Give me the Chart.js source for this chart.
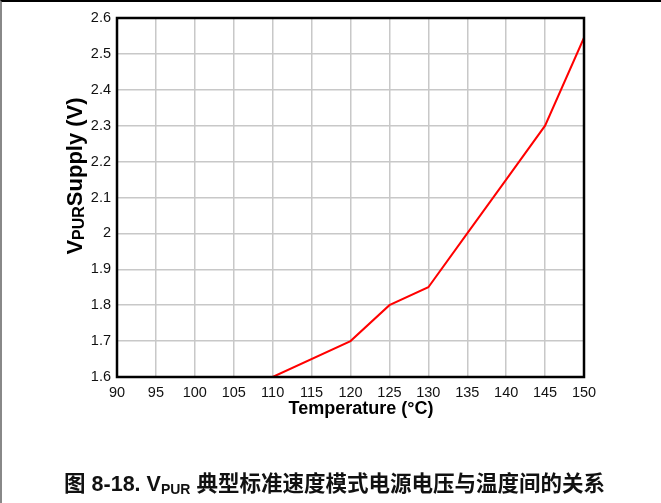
<!DOCTYPE html>
<html>
<head>
<meta charset="utf-8">
<script src="https://cdn.jsdelivr.net/npm/chart.js@4/dist/chart.umd.min.js"></script>
<style>
  html, body { margin: 0; padding: 0; background: #fff; }
  #wrap { position: relative; width: 661px; height: 503px; overflow: hidden; }
  #frame { position: absolute; left: 0; top: 0; width: 659px; height: 501px;
           border-top: 2px solid #000; border-left: 2px solid #888; }
  #caption { position: absolute; left: 4px; width: 661px; top: 466px; text-align: center;
             font-family: "Liberation Sans", "Noto Sans CJK SC", sans-serif;
             font-weight: bold; font-size: 21.5px; color: #111; }
  #caption sub { font-size: 14px; vertical-align: -3px; }
</style>
</head>
<body>
<div id="wrap">
  <canvas id="myChart" width="661" height="503"></canvas>
  <div id="frame"></div>
  <div id="caption">图 8-18. V<sub>PUR</sub> 典型标准速度模式电源电压与温度间的关系</div>
</div>
<script>
// temperature (°C) and supply (V)
var temps = [110, 120, 125, 130, 135, 140, 145, 150];
var supply = [1.6, 1.7, 1.8, 1.85, 2.0, 2.15, 2.3, 2.545];

var xTickLabels = ['90', '95', '100', '105', '110', '115', '120', '125', '130', '135', '140', '145', '150'];
var yTickLabels = ['1.6', '1.7', '1.8', '1.9', '2', '2.1', '2.2', '2.3', '2.4', '2.5', '2.6'];

var points = [];
for (var i = 0; i < temps.length; i++) {
    points.push({ x: temps[i], y: supply[i] });
}

// box around plot area + the axis titles (y title has a subscript)
var extras = {
    id: 'extras',
    afterDraw: function(chart) {
        var ctx = chart.ctx;
        var a = chart.chartArea;
        ctx.save();
        ctx.strokeStyle = '#000';
        ctx.lineWidth = 2.5;
        ctx.strokeRect(a.left, a.top, a.right - a.left, a.bottom - a.top);

        ctx.fillStyle = '#000';
        ctx.font = 'bold 18px "Liberation Sans", Arial, sans-serif';
        ctx.textAlign = 'center';
        ctx.textBaseline = 'middle';
        ctx.fillText('Temperature (\u00b0C)', 361, 409);

        ctx.translate(76, 176);
        ctx.rotate(-Math.PI / 2);
        var big = 'bold 22px "Liberation Sans", Arial, sans-serif';
        var small = 'bold 16px "Liberation Sans", Arial, sans-serif';
        ctx.font = big;
        var w1 = ctx.measureText('V').width;
        var w3 = ctx.measureText('Supply (V)').width;
        ctx.font = small;
        var w2 = ctx.measureText('PUR').width;
        var x = -(w1 + w2 + w3) / 2;
        ctx.textAlign = 'left';
        ctx.font = big;
        ctx.fillText('V', x, 0);
        ctx.font = small;
        ctx.fillText('PUR', x + w1, 4);
        ctx.font = big;
        ctx.fillText('Supply (V)', x + w1 + w2, 0);
        ctx.restore();
    }
};

var ctx = document.getElementById('myChart');
var myChart = new Chart(ctx, {
    type: 'line',
    data: {
        datasets: [{
            data: points,
            borderColor: '#ff0000',
            borderWidth: 2,
            pointRadius: 0,
            tension: 0,
            clip: 0
        }]
    },
    options: {
        responsive: false,
        animation: false,
        layout: { padding: { left: 0, top: 18, right: 77, bottom: 0 } },
        plugins: { legend: { display: false }, tooltip: { enabled: false } },
        scales: {
            x: {
                type: 'linear',
                min: 90,
                max: 150,
                afterFit: function(scale) { scale.height = 126; },
                border: { display: false },
                grid: { color: '#c8c8c8', lineWidth: 1.5, drawTicks: false },
                ticks: {
                    stepSize: 5,
                    padding: 7,
                    color: '#111',
                    font: { family: '"Liberation Sans", Arial, sans-serif', size: 14.5 },
                    maxRotation: 0,
                    callback: function(value, index) { return xTickLabels[index]; }
                }
            },
            y: {
                type: 'linear',
                min: 1.6,
                max: 2.6,
                afterFit: function(scale) { scale.width = 117; },
                border: { display: false },
                grid: { color: '#c8c8c8', lineWidth: 1.5, drawTicks: false },
                ticks: {
                    stepSize: 0.1,
                    padding: 6,
                    color: '#111',
                    font: { family: '"Liberation Sans", Arial, sans-serif', size: 14.5 },
                    callback: function(value, index) { return yTickLabels[index]; }
                }
            }
        }
    },
    plugins: [extras]
});
</script>
</body>
</html>
